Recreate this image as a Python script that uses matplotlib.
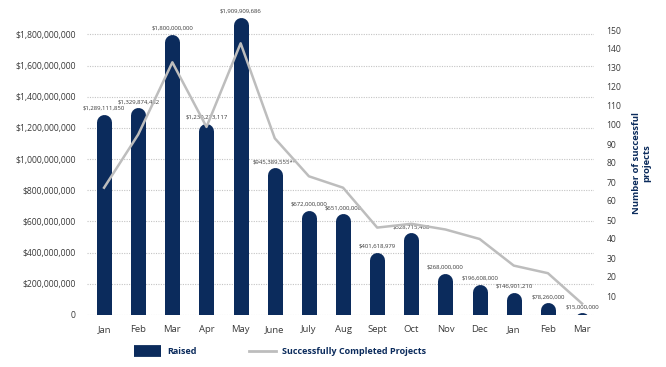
"""
Funds raised per month with number of successfully completed projects.
"""

import matplotlib
matplotlib.use('Agg')
import matplotlib.pyplot as plt
from matplotlib import transforms
from matplotlib.lines import Line2D
from matplotlib.ticker import FuncFormatter

months = ['Jan', 'Feb', 'Mar', 'Apr', 'May', 'June', 'July', 'Aug', 'Sept',
          'Oct', 'Nov', 'Dec', 'Jan', 'Feb', 'Mar']
raised = [1289111850, 1329874482, 1800000000, 1230273117, 1909909686,
          945389555, 672000000, 651000000, 401618979, 528715460,
          268000000, 196608000, 146901210, 78260000, 15000000]
raised_labels = ['$1,289,111,850', '$1,329,874,482', '$1,800,000,000',
                 '$1,230,273,117', '$1,909,909,686', '$945,389,555**',
                 '$672,000,000', '$651,000,000', '$401,618,979',
                 '$528,715,460', '$268,000,000', '$196,608,000',
                 '$146,901,210', '$78,260,000', '$15,000,000']
projects = [67, 95, 133, 99, 143, 93, 73, 67, 46, 48, 45, 40, 26, 22, 6]
left_ticks = [0, 200e6, 400e6, 600e6, 800e6, 1000e6, 1200e6, 1400e6,
              1600e6, 1800e6]
right_ticks = [10, 20, 30, 40, 50, 60, 70, 80, 90, 100, 110, 120, 130, 140, 150]

NAVY = '#0b2b5c'
GREY = '#bdbdbd'
TXT = '#3a3a3a'

plt.rcParams['font.family'] = ['Open Sans', 'DejaVu Sans']

fig = plt.figure(figsize=(6.66, 3.67), dpi=100)
ax = fig.add_axes([87 / 666, 52 / 367, (594 - 87) / 666, (315 - 11) / 367])
ax2 = ax.twinx()

x = list(range(len(months)))
ax.set_xlim(-0.5, 14.35)
ax.set_ylim(0, 1.95e9)
ax2.set_ylim(0, 160)

# bars as thick lines with round caps, shifted down so the cap ends at the value
bar_lw = 10.8
shifted = transforms.offset_copy(ax.transData, fig=fig, y=-bar_lw / 2, units='points')
for xi, v in zip(x, raised):
    ax.plot([xi, xi], [0, v], color=NAVY, lw=bar_lw, solid_capstyle='round',
            transform=shifted, zorder=3)

for xi, v, lab in zip(x, raised, raised_labels):
    ax.annotate(lab, (xi, v), xytext=(0, 2.5), textcoords='offset points',
                ha='center', va='bottom', fontsize=4.3, color=TXT, zorder=4)

ax2.plot(x, projects, color=GREY, lw=1.8, zorder=5)

ax.set_yticks(left_ticks)
ax.yaxis.set_major_formatter(FuncFormatter(lambda v, p: '0' if v == 0 else '${:,.0f}'.format(v)))
ax.grid(axis='y', linestyle=(0, (1, 1.2)), color='#c4c4c4', lw=0.8)
ax.set_axisbelow(True)
ax.set_xticks(x)
ax.set_xticklabels(months)

ax2.set_yticks(right_ticks)

for a in (ax, ax2):
    for spine in a.spines.values():
        spine.set_visible(False)
ax.tick_params(axis='y', length=0, pad=8, labelsize=6.2, labelcolor=TXT)
ax.tick_params(axis='x', length=0, pad=7, labelsize=6.8, labelcolor=TXT)
ax2.tick_params(axis='y', length=0, pad=9, labelsize=6.2, labelcolor=TXT)

ax2.set_ylabel('Number of successful\nprojects', color=NAVY, fontsize=6.8,
               fontweight='bold', labelpad=8, linespacing=1.1)

handles = [Line2D([0], [0], color=NAVY, lw=8.5, solid_capstyle='butt'),
           Line2D([0], [0], color=GREY, lw=2)]
leg = fig.legend(handles, ['Raised', 'Successfully Completed Projects'],
                 loc='center', bbox_to_anchor=(280 / 666, 1 - 352 / 367),
                 ncol=2, frameon=False, fontsize=6.5, handlelength=3.0,
                 columnspacing=5.8, handletextpad=0.7)
for t in leg.get_texts():
    t.set_color(NAVY)
    t.set_fontweight('bold')

plt.savefig('out.png', dpi=100)
plt.close(fig)
